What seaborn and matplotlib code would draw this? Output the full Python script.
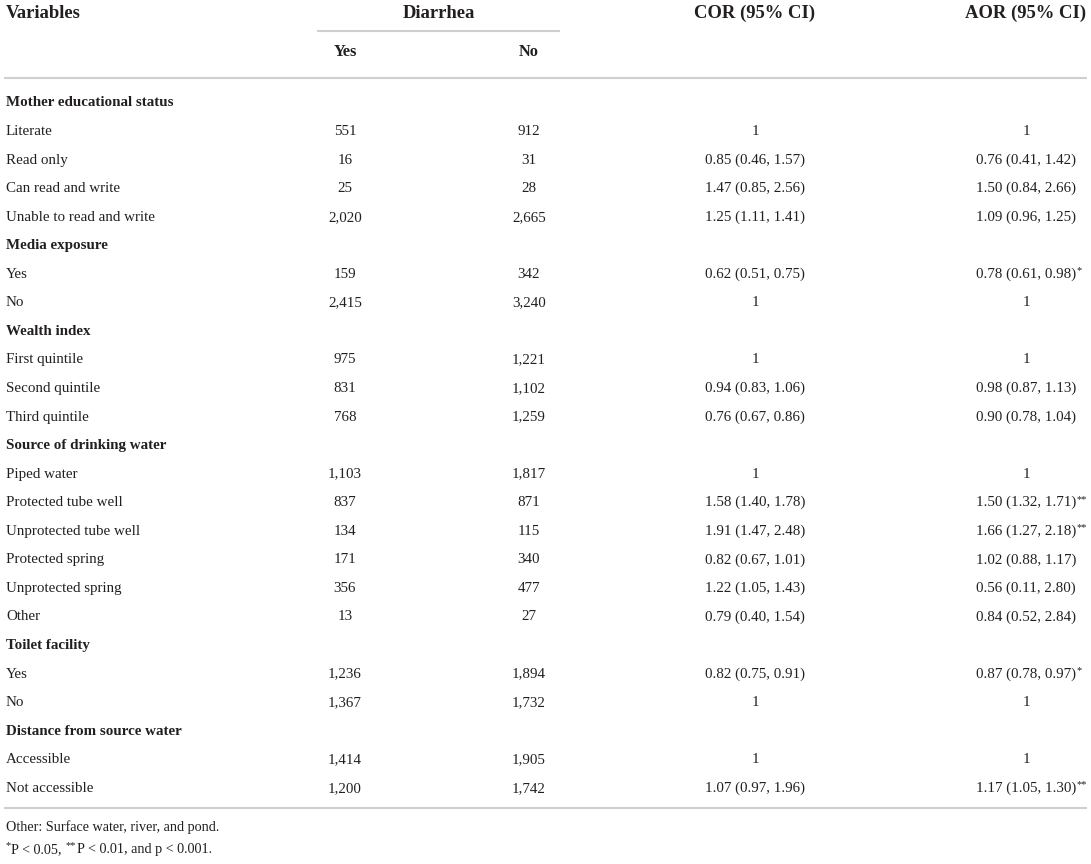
import seaborn as sns
import matplotlib.pyplot as plt

sns.set_theme(style="white")
plt.rcParams['font.family'] = ['Liberation Serif', 'DejaVu Serif']

# table content
groups = ["Mother educational status", "Media exposure", "Wealth index",
          "Source of drinking water", "Toilet facility", "Distance from source water"]
categories = [
    ["Literate", "Read only", "Can read and write", "Unable to read and write"],
    ["Yes", "No"],
    ["First quintile", "Second quintile", "Third quintile"],
    ["Piped water", "Protected tube well", "Unprotected tube well",
     "Protected spring", "Unprotected spring", "Other"],
    ["Yes", "No"],
    ["Accessible", "Not accessible"],
]
yes_counts = [551, 16, 25, 2020, 159, 2415, 975, 831, 768,
              1103, 837, 134, 171, 356, 13, 1236, 1367, 1414, 1200]
no_counts = [912, 31, 28, 2665, 342, 3240, 1221, 1102, 1259,
             1817, 871, 115, 340, 477, 27, 1894, 1732, 1905, 1742]
cor = ["1", "0.85 (0.46, 1.57)", "1.47 (0.85, 2.56)", "1.25 (1.11, 1.41)",
       "0.62 (0.51, 0.75)", "1",
       "1", "0.94 (0.83, 1.06)", "0.76 (0.67, 0.86)",
       "1", "1.58 (1.40, 1.78)", "1.91 (1.47, 2.48)", "0.82 (0.67, 1.01)",
       "1.22 (1.05, 1.43)", "0.79 (0.40, 1.54)",
       "0.82 (0.75, 0.91)", "1",
       "1", "1.07 (0.97, 1.96)"]
aor = ["1", "0.76 (0.41, 1.42)", "1.50 (0.84, 2.66)", "1.09 (0.96, 1.25)",
       "0.78 (0.61, 0.98)", "1",
       "1", "0.98 (0.87, 1.13)", "0.90 (0.78, 1.04)",
       "1", "1.50 (1.32, 1.71)", "1.66 (1.27, 2.18)", "1.02 (0.88, 1.17)",
       "0.56 (0.11, 2.80)", "0.84 (0.52, 2.84)",
       "0.87 (0.78, 0.97)", "1",
       "1", "1.17 (1.05, 1.30)"]
aor_sig = ["", "", "", "", "*", "", "", "", "", "", "**", "**", "", "", "",
           "*", "", "", "**"]
col_headers = ["Variables", "Diarrhea", "COR (95% CI)", "AOR (95% CI)"]
sub_headers = ["Yes", "No"]
footnote1 = "Other: Surface water, river, and pond."
# (superscript, text) pieces of the second footnote
footnote2 = [("*", "P < 0.05, "), ("**", "P < 0.01, and p < 0.001.")]

ink = '#231f20'
rule = '#cfcfcf'

fig = plt.figure(figsize=(10.91, 8.64), dpi=100)
ax = fig.add_axes([0, 0, 1, 1])
ax.set_xlim(0, 1091)
ax.set_ylim(864, 0)
ax.axis('off')

x_var, x_yes, x_no, x_cor, x_aor = 6, 345, 529, 755, 1026
row0, step = 103, 28.55
fs = 10.8
hfs = 13.4


def sup(txt, anchor, side='right', size=7.5):
    # small raised mark stuck to one edge of another text
    if side == 'right':
        return ax.annotate(txt, xy=(1, 1), xycoords=anchor, xytext=(0.6, 0.8),
                           textcoords='offset points', fontsize=size, color=ink,
                           ha='left', va='top')
    return ax.annotate(txt, xy=(0, 1), xycoords=anchor, xytext=(-0.3, 0.8),
                       textcoords='offset points', fontsize=size, color=ink,
                       ha='right', va='top')


# header
ax.text(x_var, 13, col_headers[0], fontsize=hfs, fontweight='bold', color=ink, va='center')
ax.text(439, 13, col_headers[1], fontsize=hfs, fontweight='bold', color=ink, va='center', ha='center')
ax.text(x_cor, 13, col_headers[2], fontsize=hfs, fontweight='bold', color=ink, va='center', ha='center')
ax.text(1086, 13, col_headers[3], fontsize=hfs, fontweight='bold', color=ink, va='center', ha='right')
ax.plot([317, 560], [31, 31], color=rule, lw=1.5, solid_capstyle='butt')
ax.text(x_yes, 52, sub_headers[0], fontsize=11.8, fontweight='bold', color=ink, va='center', ha='center')
ax.text(x_no, 52, sub_headers[1], fontsize=11.8, fontweight='bold', color=ink, va='center', ha='center')
ax.plot([4, 1087], [78, 78], color=rule, lw=1.5, solid_capstyle='butt')

# body
r = 0
k = 0
for g, cats in zip(groups, categories):
    ax.text(x_var, row0 + r * step, g, fontsize=fs, fontweight='bold', color=ink, va='center')
    r += 1
    for c in cats:
        y = row0 + r * step
        ax.text(x_var, y, c, fontsize=fs, color=ink, va='center')
        ax.text(x_yes, y, f"{yes_counts[k]:,}", fontsize=fs, color=ink, va='center', ha='center')
        ax.text(x_no, y, f"{no_counts[k]:,}", fontsize=fs, color=ink, va='center', ha='center')
        ax.text(x_cor, y, cor[k], fontsize=fs, color=ink, va='center', ha='center')
        t = ax.text(x_aor, y, aor[k], fontsize=fs, color=ink, va='center', ha='center')
        if aor_sig[k]:
            sup(aor_sig[k], t)
        r += 1
        k += 1

y_end = row0 + (r - 1) * step + 20
ax.plot([4, 1087], [y_end, y_end], color=rule, lw=1.5, solid_capstyle='butt')
ax.text(x_var, y_end + 19, footnote1, fontsize=10.2, color=ink, va='center')

# second footnote: the text pieces share one line, the stars are raised
body = ax.text(x_var + 5, y_end + 41, footnote2[0][1], fontsize=10.2, color=ink, va='center')
sup(footnote2[0][0], body, side='left')
for mark, txt in footnote2[1:]:
    m = sup(mark, body)
    body = ax.annotate(txt, xy=(1, 0.5), xycoords=(m, body), xytext=(0.3, 0),
                       textcoords='offset points', fontsize=10.2, color=ink,
                       ha='left', va='center')

fig.savefig('out.png', dpi=100, facecolor='white')
